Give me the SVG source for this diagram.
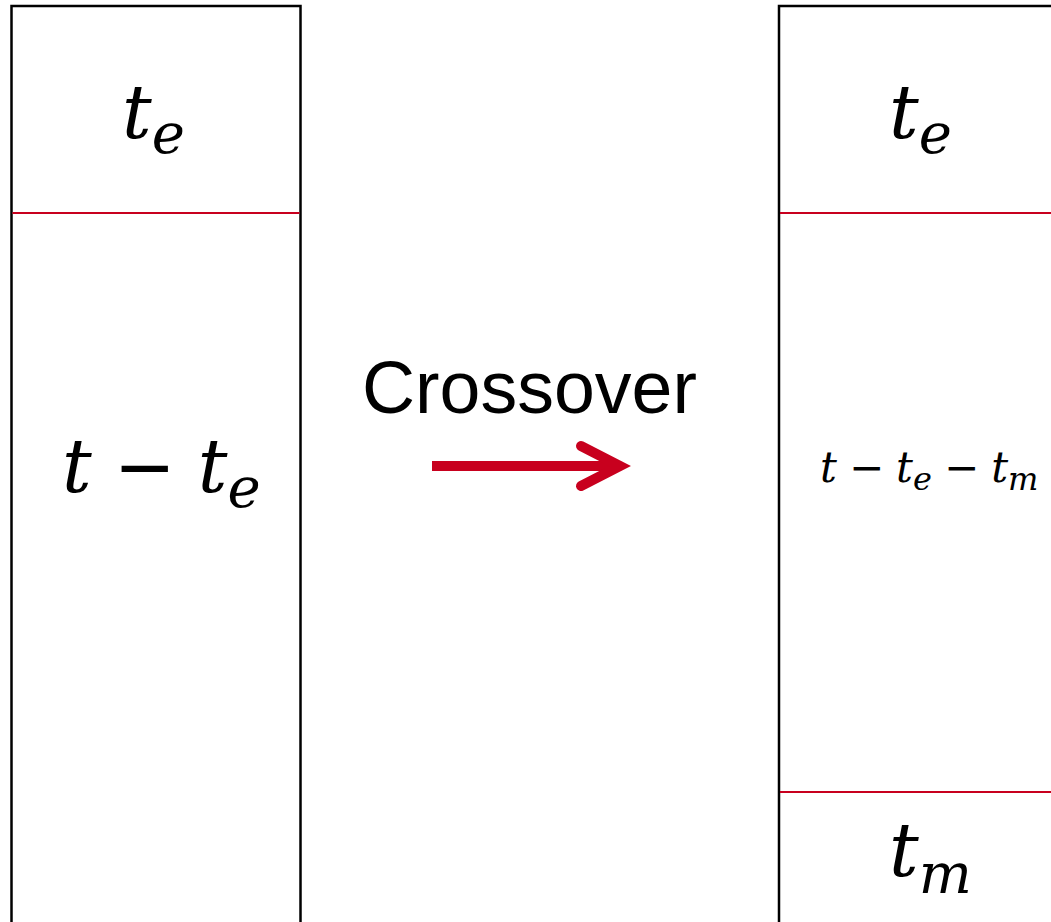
<svg xmlns="http://www.w3.org/2000/svg" width="1051" height="922" viewBox="0 0 1051 922">
<style>
.box{fill:#fff;stroke:#000;stroke-width:2.5}
.div{stroke:#c8001e;stroke-width:2}
.m{font-family:"DejaVu Serif","Liberation Serif",serif;font-style:italic;fill:#000}
.op{font-family:"DejaVu Sans","Liberation Sans",sans-serif;font-style:normal}
.lbl{font-family:"Liberation Sans",Arial,sans-serif;font-size:74px;fill:#000}
</style>
<rect width="1051" height="922" fill="#fff"/>
<g id="left-block">
<rect class="box" x="11.5" y="6" width="289" height="940"/>
<line class="div" x1="12.5" y1="213" x2="299.5" y2="213"/>
<text class="m" x="122" y="138" font-size="74">t<tspan font-size="56" dy="15">e</tspan></text>
<text class="m" x="62" y="492" font-size="74">t<tspan class="op" dx="22">−</tspan><tspan dx="22">t</tspan><tspan font-size="56" dy="15">e</tspan></text>
</g>
<g id="right-block">
<rect class="box" x="779" y="6" width="300" height="940"/>
<line class="div" x1="780" y1="213" x2="1051" y2="213"/>
<line class="div" x1="780" y1="792" x2="1051" y2="792"/>
<text class="m" x="889" y="138" font-size="74">t<tspan font-size="56" dy="15">e</tspan></text>
<text class="m" x="820" y="482" font-size="42">t<tspan class="op" dx="12">−</tspan><tspan dx="12">t</tspan><tspan font-size="32" dy="8">e</tspan><tspan class="op" dx="12" dy="-8">−</tspan><tspan dx="12">t</tspan><tspan font-size="32" dy="8">m</tspan></text>
<text class="m" x="889" y="876" font-size="74">t<tspan font-size="56" dy="17">m</tspan></text>
</g>
<g id="connectors">
<text class="lbl" x="362" y="413" textLength="335" lengthAdjust="spacingAndGlyphs">Crossover</text>
<line x1="432" y1="466" x2="614" y2="466" stroke="#c8001e" stroke-width="10"/>
<polyline points="581,446 620,466 581,486" fill="none" stroke="#c8001e" stroke-width="10" stroke-linecap="round" stroke-linejoin="miter"/>
</g>
</svg>
